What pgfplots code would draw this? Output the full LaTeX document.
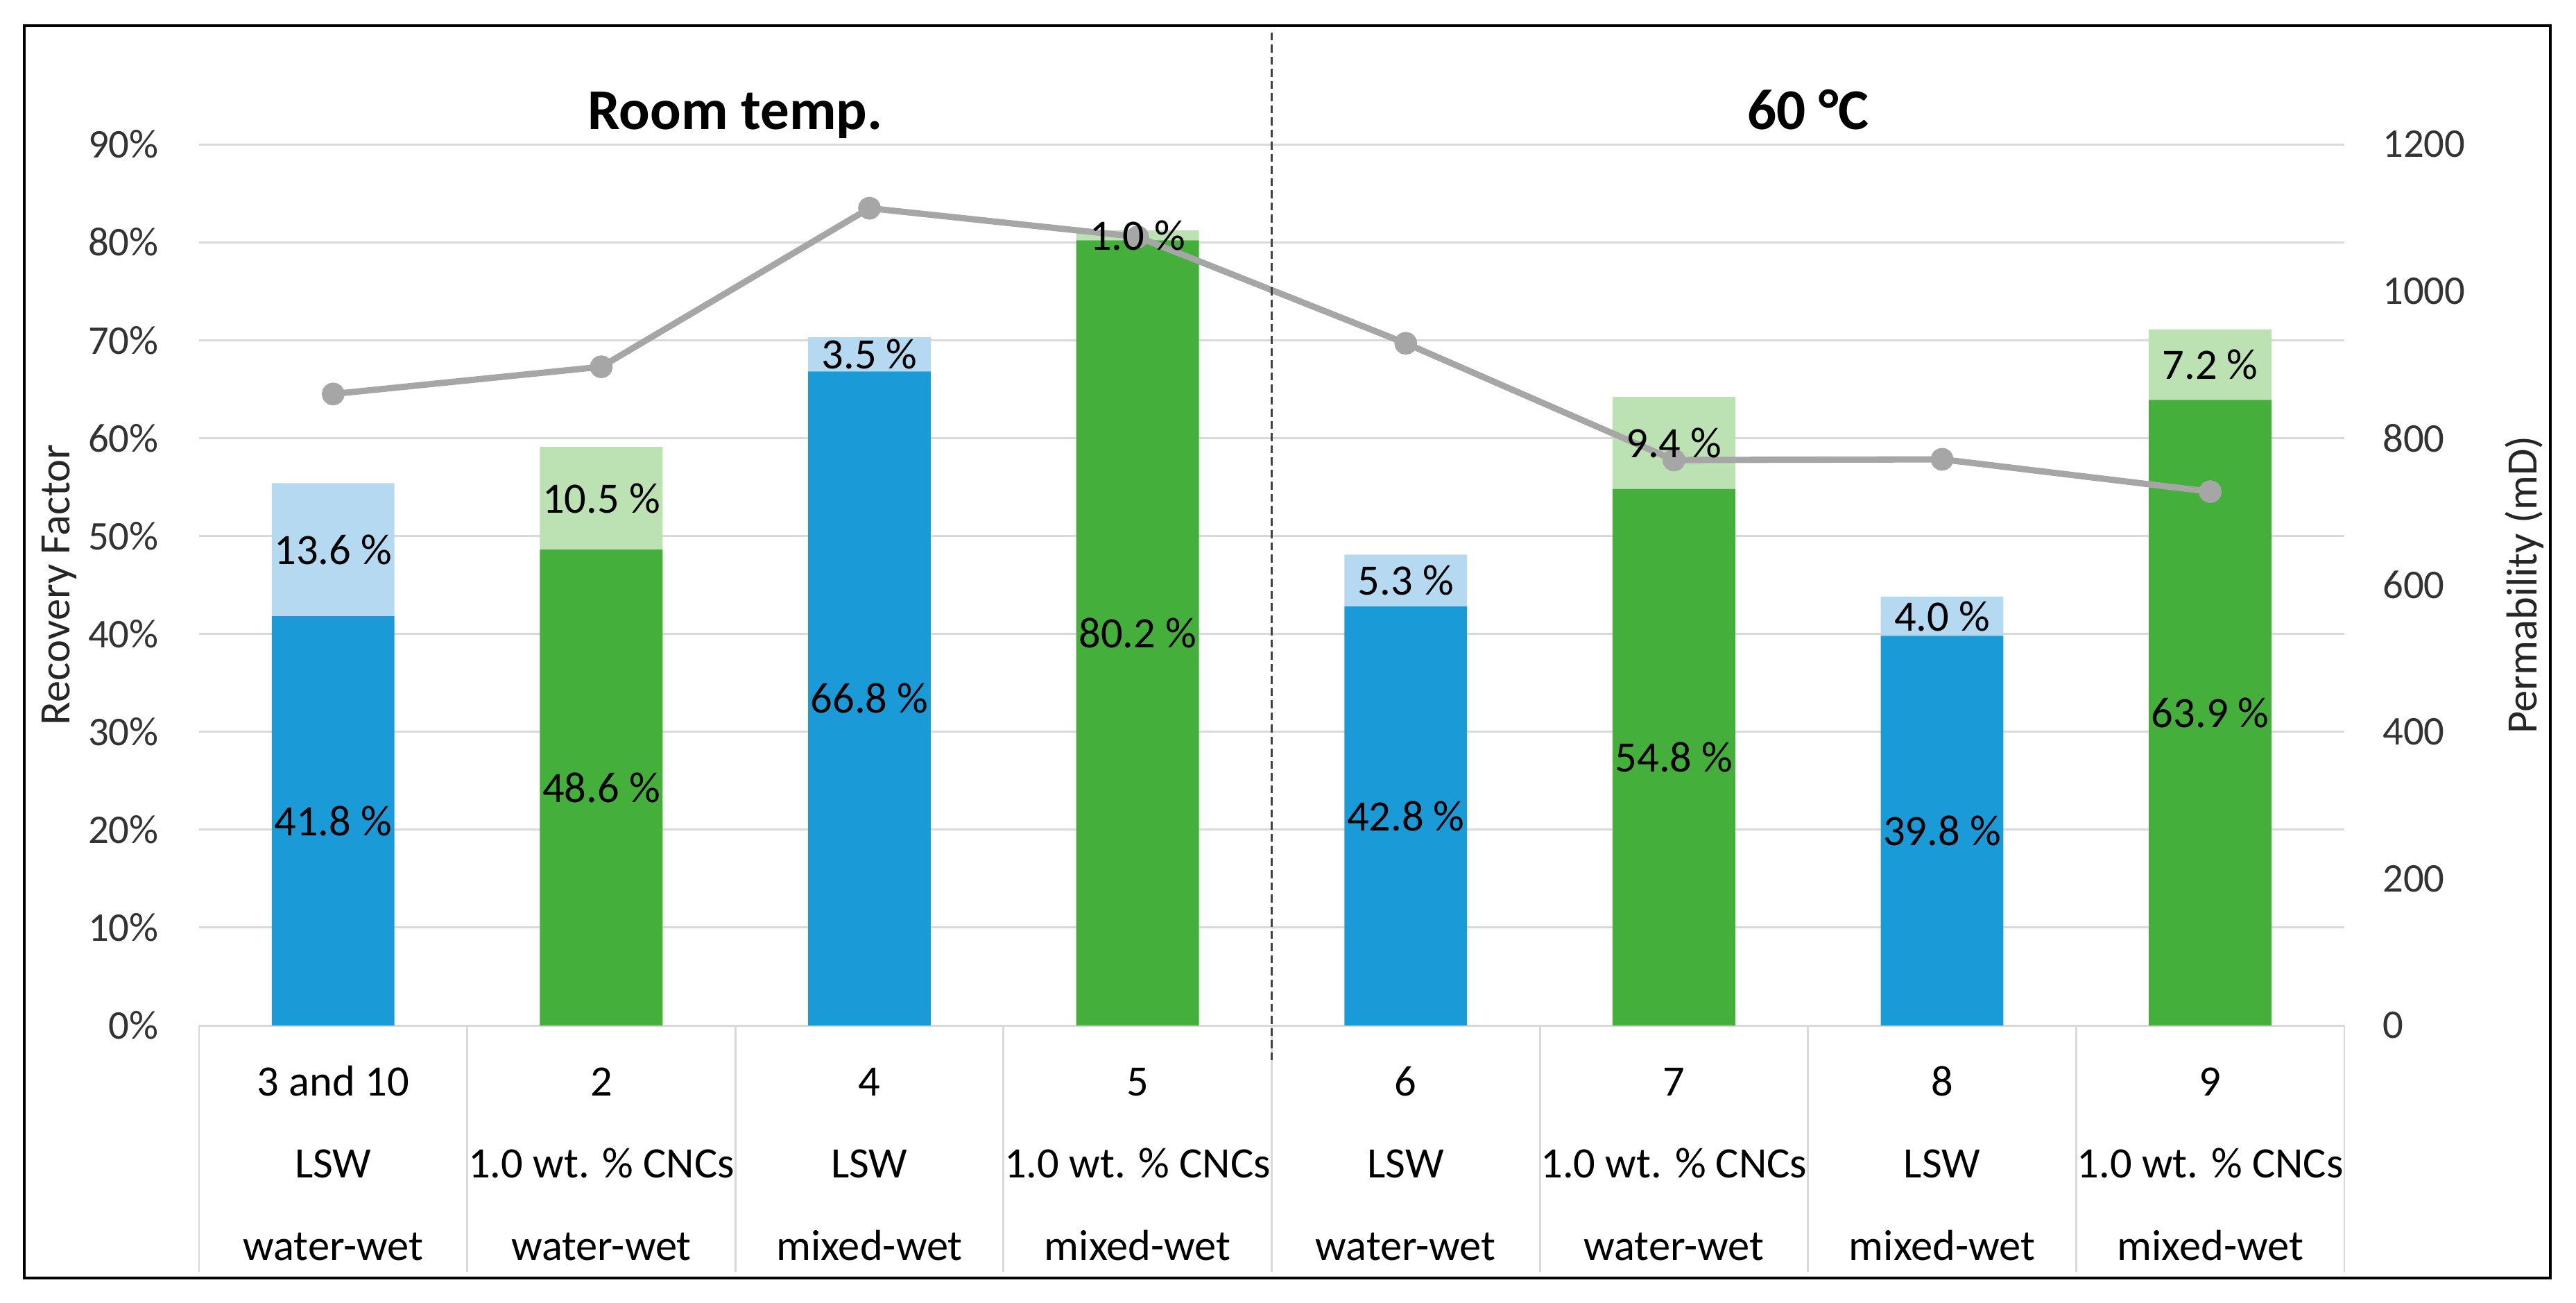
\documentclass[border=0pt]{standalone}
\usepackage{fontspec}
\setmainfont{Carlito}
\usepackage{pgfplots}
\pgfplotsset{compat=1.18}

\definecolor{darkblue}{HTML}{1A9BD7}
\definecolor{lightblue}{HTML}{B4D9F0}
\definecolor{darkgreen}{HTML}{44AF3B}
\definecolor{lightgreen}{HTML}{BCE2B4}
\definecolor{linegray}{HTML}{A6A6A6}
\definecolor{gridgray}{HTML}{D9D9D9}
\definecolor{dashgray}{HTML}{404040}

% sizes: 1 px of the 3714 x 1877 reference = 0.16pt
\pgfplotsset{
  base/.style={
    at={(45.92pt,63.84pt)}, anchor=south west,
    scale only axis, width=494.88pt, height=203.2pt,
    xmin=-0.5, xmax=7.5,
    /pgf/number format/assume math mode=true,
    /pgf/number format/1000 sep={},
    tick label style={font=\fontsize{9.4}{11}\selectfont, text=black!80},
    tick style={draw=none},
    axis line style={draw=none},
  },
}
\newcommand{\st}{\rule{0pt}{7.5pt}}

\begin{document}
\begin{tikzpicture}
\useasboundingbox (0,0) rectangle (594.24pt,300.32pt);
\fill[white] (0,0) rectangle (594.24pt,300.32pt);

% recovery factor, stacked bars
\begin{axis}[base,
  clip=false,
  ybar stacked, bar width=28.3pt,
  ymin=0, ymax=90, ytick={0,10,...,90},
  yticklabel={\pgfmathprintnumber{\tick}\%},
  yticklabel style={xshift=-5.8pt},
  ymajorgrids, grid style={gridgray, line width=0.48pt},
  xtick={0,...,7},
  xticklabels={
    {\st 3 and 10\\LSW\\water-wet},
    {\st 2\\1.0 wt. \% CNCs\\water-wet},
    {\st 4\\LSW\\mixed-wet},
    {\st 5\\1.0 wt. \% CNCs\\mixed-wet},
    {\st 6\\LSW\\water-wet},
    {\st 7\\1.0 wt. \% CNCs\\water-wet},
    {\st 8\\LSW\\mixed-wet},
    {\st 9\\1.0 wt. \% CNCs\\mixed-wet}},
  xticklabel style={align=center, font=\fontsize{10}{18.96}\selectfont,
    text=black, inner sep=0pt, anchor=north, yshift=-8.5pt},
  ylabel={Recovery Factor},
  every axis y label/.style={at={(axis description cs:-0.0653,0.5)},
    rotate=90, anchor=center, font=\fontsize{10}{12}\selectfont, text=black!85},
]
\addplot[fill=darkblue, draw=none] coordinates
  {(0,41.8) (1,0) (2,66.8) (3,0) (4,42.8) (5,0) (6,39.8) (7,0)};
\addplot[fill=lightblue, draw=none] coordinates
  {(0,13.6) (1,0) (2,3.5) (3,0) (4,5.3) (5,0) (6,4.0) (7,0)};
\addplot[fill=darkgreen, draw=none] coordinates
  {(0,0) (1,48.6) (2,0) (3,80.2) (4,0) (5,54.8) (6,0) (7,63.9)};
\addplot[fill=lightgreen, draw=none] coordinates
  {(0,0) (1,10.5) (2,0) (3,1.0) (4,0) (5,9.4) (6,0) (7,7.2)};
% table lines below the axis
\pgfplotsinvokeforeach{-0.5,0.5,1.5,2.5,3.5,4.5,5.5,6.5,7.5}{
  \draw[gridgray, line width=0.45pt] (axis cs:#1,0) -- ++(0pt,-56.8pt);
}
\end{axis}

% permeability, secondary axis
\begin{axis}[base,
  ymin=0, ymax=1200, ytick={0,200,...,1200},
  axis y line*=right, axis x line=none, xtick=\empty,
  yticklabel style={xshift=5.3pt},
  ylabel={Permability (mD)},
  every axis y label/.style={at={(axis description cs:1.0841,0.5)},
    rotate=90, anchor=center, font=\fontsize{10}{12}\selectfont, text=black!85},
]
\addplot[linegray, line width=1.45pt, mark=*, mark size=1.9pt,
  mark options={fill=linegray, draw=linegray}] coordinates
  {(0,860) (1,897) (2,1113) (3,1074) (4,929) (5,770) (6,771) (7,727)};
\end{axis}

% data labels, centred in each segment
\begin{axis}[base, ymin=0, ymax=90, hide axis]
\addplot[draw=none, nodes near coords, point meta=explicit symbolic,
  every node near coord/.style={anchor=center, inner sep=0pt,
    font=\fontsize{10}{12}\selectfont, text=black}] coordinates {
  (0,20.9) [41.8 \%]   (0,48.6) [13.6 \%]
  (1,24.3) [48.6 \%]   (1,53.85) [10.5 \%]
  (2,33.4) [66.8 \%]   (2,68.55) [3.5 \%]
  (3,40.1) [80.2 \%]   (3,80.7) [1.0 \%]
  (4,21.4) [42.8 \%]   (4,45.45) [5.3 \%]
  (5,27.4) [54.8 \%]   (5,59.5) [9.4 \%]
  (6,19.9) [39.8 \%]   (6,41.8) [4.0 \%]
  (7,31.95) [63.9 \%]  (7,67.5) [7.2 \%]
};
\end{axis}

\begin{scope}[x=0.16pt, y=0.16pt]
% group titles and divider
\node[anchor=base, font=\fontsize{13.3}{16}\selectfont\bfseries] at (1060,1690) {Room temp.};
\node[anchor=base, font=\fontsize{13.3}{16}\selectfont\bfseries] at (2607,1690) {60 °C};
\draw[dashgray, line width=0.5pt, dash pattern=on 1.8pt off 1pt] (1833,1830) -- (1833,347);
% outer frame
\draw[black, line width=0.6pt] (35,35) rectangle (3677,1840);
\end{scope}
\end{tikzpicture}
\end{document}
